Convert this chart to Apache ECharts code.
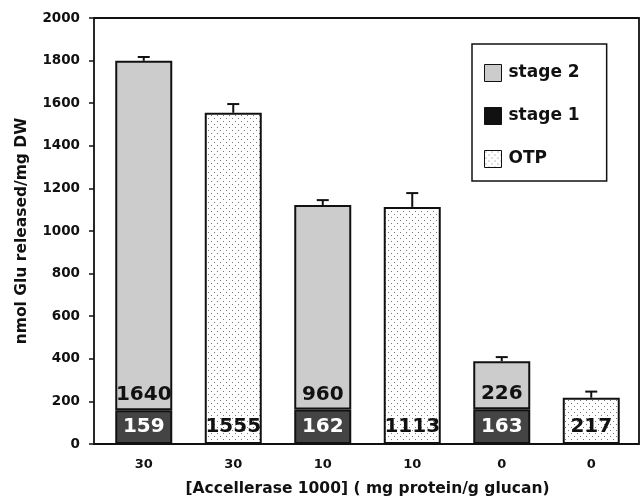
<!DOCTYPE html>
<html>
<head>
<meta charset="utf-8">
<script src="https://cdn.jsdelivr.net/npm/echarts@6/dist/echarts.min.js"></script>
<style>html,body{margin:0;padding:0;background:#fff}#c{width:643px;height:499px}</style>
</head>
<body>
<div id="c"></div>
<script>
var categories = ['30', '30', '10', '10', '0', '0'];
var stage1 = [159, null, 162, null, 163, null];
var stage2 = [1640, null, 960, null, 226, null];
var otp = [null, 1555, null, 1113, null, 217];
var errors = [18, 41, 23, 65, 19, 29];
var yTicks = [0, 200, 400, 600, 800, 1000, 1200, 1400, 1600, 1800, 2000];

var FONT = 'DejaVu Sans';

function dotPattern() {
  var c = document.createElement('canvas');
  c.width = 6; c.height = 6;
  var ctx = c.getContext('2d');
  ctx.fillStyle = '#ffffff';
  ctx.fillRect(0, 0, 6, 6);
  ctx.fillStyle = '#777777';
  ctx.fillRect(1, 1, 1, 1);
  ctx.fillRect(4, 4, 1, 1);
  return c;
}
var pat = dotPattern();

var errData = categories.map(function (c, i) {
  var top = (stage1[i] || 0) + (stage2[i] || 0) + (otp[i] || 0);
  return [i, top, top + errors[i]];
});

var chart = echarts.init(document.getElementById('c'), null, {renderer: 'canvas'});
chart.setOption({
  animation: false,
  textStyle: {fontFamily: FONT},
  grid: [
    {left: 99, right: 7, top: 18, bottom: 55, outerBoundsMode: 'none', containLabel: false},
    {left: 94, right: 4, top: 18, bottom: 55, outerBoundsMode: 'none', containLabel: false,
     show: true, borderColor: '#111', borderWidth: 1.8, backgroundColor: 'transparent', z: 5}
  ],
  legend: {
    orient: 'vertical',
    left: 472, top: 44,
    padding: [20, 27, 13, 12],
    itemGap: 25,
    itemWidth: 17, itemHeight: 17,
    borderColor: '#111', borderWidth: 1.5,
    backgroundColor: '#fff',
    textStyle: {fontFamily: FONT, fontWeight: 'bold', fontSize: 17, color: '#111', padding: [4, 0, 0, 2]},
    data: [
      {name: 'stage 2', icon: 'rect', itemStyle: {color: '#cccccc', borderColor: '#111', borderWidth: 1}},
      {name: 'stage 1', icon: 'rect', itemStyle: {color: '#111111', borderColor: '#111', borderWidth: 1}},
      {name: 'OTP', icon: 'rect', itemStyle: {color: {image: pat, repetition: 'repeat'}, borderColor: '#111', borderWidth: 1}}
    ]
  },
  xAxis: [
    {
      type: 'category', data: categories, gridIndex: 0,
      axisLine: {show: false}, axisTick: {show: false},
      axisLabel: {fontFamily: FONT, fontWeight: 'bold', fontSize: 13, color: '#111', margin: 14},
      name: '[Accellerase 1000] ( mg protein/g glucan)',
      nameLocation: 'middle', nameGap: 37,
      nameTextStyle: {fontFamily: FONT, fontWeight: 'bold', fontSize: 15.5, color: '#111'}
    },
    {type: 'value', gridIndex: 1, show: false}
  ],
  yAxis: [
    {
      type: 'value', gridIndex: 0, min: 0, max: 2000, interval: 200, offset: 5,
      axisLine: {show: false},
      axisTick: {show: true, length: 5, lineStyle: {color: '#111', width: 1.5}},
      splitLine: {show: false},
      axisLabel: {fontFamily: FONT, fontWeight: 'bold', fontSize: 13.5, color: '#111', margin: 14,
        formatter: function (v) { return String(v); }},
      name: 'nmol Glu released/mg DW',
      nameLocation: 'middle', nameGap: 64, nameRotate: 90,
      nameTextStyle: {fontFamily: FONT, fontWeight: 'bold', fontSize: 15.5, color: '#111'}
    },
    {type: 'value', gridIndex: 1, show: false}
  ],
  series: [
    {
      name: 'stage 1', type: 'bar', stack: 'a', data: stage1, barWidth: 57, barGap: '-100%',
      itemStyle: {color: '#444444', borderColor: '#111', borderWidth: 2},
      label: {show: true, position: 'inside', fontFamily: FONT, fontWeight: 'bold', fontSize: 20, color: '#fff'}
    },
    {
      name: 'stage 2', type: 'bar', stack: 'a', data: stage2, barWidth: 57, barGap: '-100%',
      itemStyle: {color: '#cccccc', borderColor: '#111', borderWidth: 2},
      label: {show: true, position: 'insideBottom', distance: 5, fontFamily: FONT, fontWeight: 'bold', fontSize: 20, color: '#111'}
    },
    {
      name: 'OTP', type: 'bar', data: otp, barWidth: 57, barGap: '-100%',
      itemStyle: {color: {image: pat, repetition: 'repeat'}, borderColor: '#111', borderWidth: 2},
      label: {show: true, position: 'insideBottom', distance: 7, fontFamily: FONT, fontWeight: 'bold', fontSize: 20, color: '#111'}
    },
    {
      name: 'err', type: 'custom', data: errData, z: 10,
      renderItem: function (params, api) {
        var x = api.value(0);
        var p0 = api.coord([x, api.value(1)]);
        var p1 = api.coord([x, api.value(2)]);
        var hw = 6;
        return {
          type: 'group',
          children: [
            {type: 'line', shape: {x1: p0[0], y1: p0[1], x2: p1[0], y2: p1[1]}, style: {stroke: '#111', lineWidth: 2}},
            {type: 'line', shape: {x1: p1[0] - hw, y1: p1[1], x2: p1[0] + hw, y2: p1[1]}, style: {stroke: '#111', lineWidth: 2}}
          ]
        };
      }
    }
  ]
});
</script>
</body>
</html>
